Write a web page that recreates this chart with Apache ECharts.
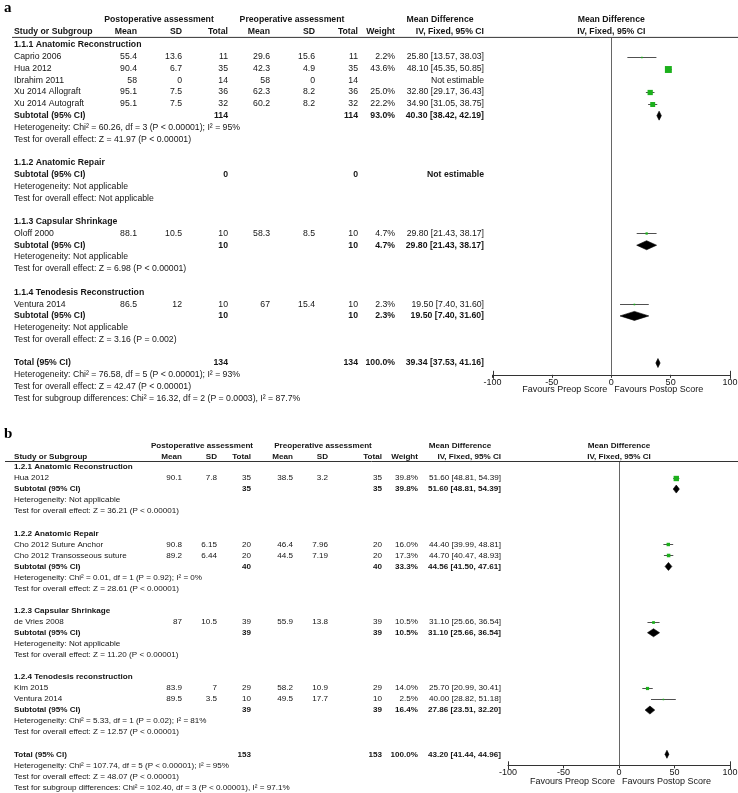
<!DOCTYPE html>
<html>
<head>
<meta charset="utf-8">
<script src="https://cdn.jsdelivr.net/npm/echarts@6/dist/echarts.min.js"></script>
<style>
  html, body { margin: 0; background: #fff; }
  #chart { width: 738px; height: 793px; }
</style>
</head>
<body>
<div id="chart"></div>
<script>
// ---------- panel a : studies ----------
const aStudyRow = [1, 2, 3, 4, 5, 16, 22];
const aStudyName = ['Caprio 2006', 'Hua 2012', 'Ibrahim 2011', 'Xu 2014 Allograft', 'Xu 2014 Autograft', 'Oloff 2000', 'Ventura 2014'];
const aPostMean = [55.4, 90.4, 58, 95.1, 95.1, 88.1, 86.5];
const aPostSD = [13.6, 6.7, 0, 7.5, 7.5, 10.5, 12];
const aPostN = [11, 35, 14, 36, 32, 10, 10];
const aPreMean = [29.6, 42.3, 58, 62.3, 60.2, 58.3, 67];
const aPreSD = [15.6, 4.9, 0, 8.2, 8.2, 8.5, 15.4];
const aPreN = [11, 35, 14, 36, 32, 10, 10];
const aWeight = [2.2, 43.6, null, 25.0, 22.2, 4.7, 2.3];
const aMD = [25.80, 48.10, null, 32.80, 34.90, 29.80, 19.50];
const aLo = [13.57, 45.35, null, 29.17, 31.05, 21.43, 7.40];
const aHi = [38.03, 50.85, null, 36.43, 38.75, 38.17, 31.60];

// panel a : subtotals + total
const aPoolRow = [6, 11, 17, 23, 27];
const aPoolName = ['Subtotal (95% CI)', 'Subtotal (95% CI)', 'Subtotal (95% CI)', 'Subtotal (95% CI)', 'Total (95% CI)'];
const aPoolPostN = [114, 0, 10, 10, 134];
const aPoolPreN = [114, 0, 10, 10, 134];
const aPoolWeight = [93.0, null, 4.7, 2.3, 100.0];
const aPoolMD = [40.30, null, 29.80, 19.50, 39.34];
const aPoolLo = [38.42, null, 21.43, 7.40, 37.53];
const aPoolHi = [42.19, null, 38.17, 31.60, 41.16];

// panel a : subgroup headings and notes
const aGroupRow = [0, 10, 15, 21];
const aGroupName = ['1.1.1 Anatomic Reconstruction', '1.1.2 Anatomic Repair', '1.1.3 Capsular Shrinkage', '1.1.4 Tenodesis Reconstruction'];
const aNoteRow = [7, 8, 12, 13, 18, 19, 24, 25, 28, 29, 30];
const aNoteText = [
  'Heterogeneity: Chi² = 60.26, df = 3 (P < 0.00001); I² = 95%',
  'Test for overall effect: Z = 41.97 (P < 0.00001)',
  'Heterogeneity: Not applicable',
  'Test for overall effect: Not applicable',
  'Heterogeneity: Not applicable',
  'Test for overall effect: Z = 6.98 (P < 0.00001)',
  'Heterogeneity: Not applicable',
  'Test for overall effect: Z = 3.16 (P = 0.002)',
  'Heterogeneity: Chi² = 76.58, df = 5 (P < 0.00001); I² = 93%',
  'Test for overall effect: Z = 42.47 (P < 0.00001)',
  'Test for subgroup differences: Chi² = 16.32, df = 2 (P = 0.0003), I² = 87.7%'
];

// ---------- panel b : studies ----------
const bStudyRow = [1, 7, 8, 14, 20, 21];
const bStudyName = ['Hua 2012', 'Cho 2012 Suture Anchor', 'Cho 2012 Transosseous suture', 'de Vries 2008', 'Kim 2015', 'Ventura 2014'];
const bPostMean = [90.1, 90.8, 89.2, 87, 83.9, 89.5];
const bPostSD = [7.8, 6.15, 6.44, 10.5, 7, 3.5];
const bPostN = [35, 20, 20, 39, 29, 10];
const bPreMean = [38.5, 46.4, 44.5, 55.9, 58.2, 49.5];
const bPreSD = [3.2, 7.96, 7.19, 13.8, 10.9, 17.7];
const bPreN = [35, 20, 20, 39, 29, 10];
const bWeight = [39.8, 16.0, 17.3, 10.5, 14.0, 2.5];
const bMD = [51.60, 44.40, 44.70, 31.10, 25.70, 40.00];
const bLo = [48.81, 39.99, 40.47, 25.66, 20.99, 28.82];
const bHi = [54.39, 48.81, 48.93, 36.54, 30.41, 51.18];

const bPoolRow = [2, 9, 15, 22, 26];
const bPoolName = ['Subtotal (95% CI)', 'Subtotal (95% CI)', 'Subtotal (95% CI)', 'Subtotal (95% CI)', 'Total (95% CI)'];
const bPoolPostN = [35, 40, 39, 39, 153];
const bPoolPreN = [35, 40, 39, 39, 153];
const bPoolWeight = [39.8, 33.3, 10.5, 16.4, 100.0];
const bPoolMD = [51.60, 44.56, 31.10, 27.86, 43.20];
const bPoolLo = [48.81, 41.50, 25.66, 23.51, 41.44];
const bPoolHi = [54.39, 47.61, 36.54, 32.20, 44.96];

const bGroupRow = [0, 6, 13, 19];
const bGroupName = ['1.2.1 Anatomic Reconstruction', '1.2.2 Anatomic Repair', '1.2.3 Capsular Shrinkage', '1.2.4 Tenodesis reconstruction'];
const bNoteRow = [3, 4, 10, 11, 16, 17, 23, 24, 27, 28, 29];
const bNoteText = [
  'Heterogeneity: Not applicable',
  'Test for overall effect: Z = 36.21 (P < 0.00001)',
  'Heterogeneity: Chi² = 0.01, df = 1 (P = 0.92); I² = 0%',
  'Test for overall effect: Z = 28.61 (P < 0.00001)',
  'Heterogeneity: Not applicable',
  'Test for overall effect: Z = 11.20 (P < 0.00001)',
  'Heterogeneity: Chi² = 5.33, df = 1 (P = 0.02); I² = 81%',
  'Test for overall effect: Z = 12.57 (P < 0.00001)',
  'Heterogeneity: Chi² = 107.74, df = 5 (P < 0.00001); I² = 95%',
  'Test for overall effect: Z = 48.07 (P < 0.00001)',
  'Test for subgroup differences: Chi² = 102.40, df = 3 (P < 0.00001), I² = 97.1%'
];

// x axis of the plot
const axisTicks = [-100, -50, 0, 50, 100];
const favoursLeft = 'Favours Preop Score';
const favoursRight = 'Favours Postop Score';

const FONT = "'Liberation Sans', Arial, sans-serif";
const TXT = '#151515';
const GREEN = '#1cb01c';

// layout only (pixels)
const panels = [
  {
    label: 'a', labelY: 1, fontSize: 8.7, sq: 1.05, dia: 4.5,
    gridLeft: 492.5, gridWidth: 237.5, gridTop: 37.9, rowStep: 11.78, yMin: -0.6, yMax: 28,
    lineX: 12, head1Y: 20, head2Y: 32, favY: 390,
    cols: { name: 14, postMean: 137, postSD: 182, postN: 228, preMean: 270, preSD: 315, preN: 358, weight: 395, ci: 484 },
    head1: [['Postoperative assessment', 159], ['Preoperative assessment', 292], ['Mean Difference', 440]],
    study: { row: aStudyRow, name: aStudyName, postMean: aPostMean, postSD: aPostSD, postN: aPostN, preMean: aPreMean, preSD: aPreSD, preN: aPreN, weight: aWeight, md: aMD, lo: aLo, hi: aHi },
    pool: { row: aPoolRow, name: aPoolName, postN: aPoolPostN, preN: aPoolPreN, weight: aPoolWeight, md: aPoolMD, lo: aPoolLo, hi: aPoolHi },
    group: { row: aGroupRow, name: aGroupName },
    note: { row: aNoteRow, text: aNoteText }
  },
  {
    label: 'b', labelY: 427, fontSize: 8.1, sq: 0.85, dia: 4,
    gridLeft: 508, gridWidth: 222, gridTop: 462, rowStep: 11.05, yMin: -0.45, yMax: 27,
    lineX: 5, head1Y: 446, head2Y: 457, favY: 782,
    cols: { name: 14, postMean: 182, postSD: 217, postN: 251, preMean: 293, preSD: 328, preN: 382, weight: 418, ci: 501 },
    head1: [['Postoperative assessment', 202], ['Preoperative assessment', 323], ['Mean Difference', 460]],
    study: { row: bStudyRow, name: bStudyName, postMean: bPostMean, postSD: bPostSD, postN: bPostN, preMean: bPreMean, preSD: bPreSD, preN: bPreN, weight: bWeight, md: bMD, lo: bLo, hi: bHi },
    pool: { row: bPoolRow, name: bPoolName, postN: bPoolPostN, preN: bPoolPreN, weight: bPoolWeight, md: bPoolMD, lo: bPoolLo, hi: bPoolHi },
    group: { row: bGroupRow, name: bGroupName },
    note: { row: bNoteRow, text: bNoteText }
  }
];

const ciText = (m, l, h) => m.toFixed(2) + ' [' + l.toFixed(2) + ', ' + h.toFixed(2) + ']';

function buildRows(P) {
  const c = P.cols, S = P.study, Q = P.pool, rows = [];
  S.row.forEach((r, i) => {
    const cells = [
      [S.name[i], c.name, 'left'],
      [String(S.postMean[i]), c.postMean, 'right'],
      [String(S.postSD[i]), c.postSD, 'right'],
      [String(S.postN[i]), c.postN, 'right'],
      [String(S.preMean[i]), c.preMean, 'right'],
      [String(S.preSD[i]), c.preSD, 'right'],
      [String(S.preN[i]), c.preN, 'right']
    ];
    if (S.weight[i] != null) cells.push([S.weight[i].toFixed(1) + '%', c.weight, 'right']);
    cells.push([S.md[i] != null ? ciText(S.md[i], S.lo[i], S.hi[i]) : 'Not estimable', c.ci, 'right']);
    rows.push({ row: r, bold: false, cells });
  });
  Q.row.forEach((r, i) => {
    const cells = [
      [Q.name[i], c.name, 'left'],
      [String(Q.postN[i]), c.postN, 'right'],
      [String(Q.preN[i]), c.preN, 'right']
    ];
    if (Q.weight[i] != null) cells.push([Q.weight[i].toFixed(1) + '%', c.weight, 'right']);
    cells.push([Q.md[i] != null ? ciText(Q.md[i], Q.lo[i], Q.hi[i]) : 'Not estimable', c.ci, 'right']);
    rows.push({ row: r, bold: true, cells });
  });
  P.group.row.forEach((r, i) => rows.push({ row: r, bold: true, cells: [[P.group.name[i], c.name, 'left']] }));
  P.note.row.forEach((r, i) => rows.push({ row: r, bold: false, cells: [[P.note.text[i], c.name, 'left']] }));
  return rows;
}

function textEl(text, x, y, align, bold, size) {
  return {
    type: 'text',
    style: {
      text, x, y, align, textAlign: align, verticalAlign: 'middle', textVerticalAlign: 'middle',
      fill: TXT, font: (bold ? 'bold ' : '') + size + 'px ' + FONT
    }
  };
}

const grid = [], xAxis = [], yAxis = [], series = [], graphic = [];

panels.forEach((P, k) => {
  const rows = buildRows(P);
  grid.push({
    left: P.gridLeft, width: P.gridWidth, top: P.gridTop,
    height: (P.yMax - P.yMin) * P.rowStep,
    containLabel: false, outerBoundsMode: 'none'
  });
  xAxis.push({
    gridIndex: k, type: 'value', min: axisTicks[0], max: axisTicks[axisTicks.length - 1], interval: 50,
    position: 'bottom',
    axisLine: { show: true, onZero: false, lineStyle: { color: '#333', width: 1 } },
    axisTick: { show: true, length: 3, lineStyle: { color: '#333' } },
    axisLabel: { color: TXT, fontSize: 9, fontFamily: FONT, margin: 3 },
    splitLine: { show: false }
  });
  yAxis.push({ gridIndex: k, type: 'value', inverse: true, min: P.yMin, max: P.yMax, show: false, splitLine: { show: false } });

  // table text, placed on the rows of the y scale
  series.push({
    type: 'custom', xAxisIndex: k, yAxisIndex: k, silent: true, clip: false,
    data: rows.map(r => [0, r.row]),
    renderItem(params, api) {
      const r = rows[params.dataIndex];
      const y = api.coord([0, r.row])[1];
      return { type: 'group', children: r.cells.map(cc => textEl(cc[0], cc[1], y, cc[2], r.bold, P.fontSize)) };
    }
  });

  // study estimates: CI line + weighted square
  const S = P.study;
  const studyData = [];
  S.row.forEach((r, i) => { if (S.md[i] != null) studyData.push([r, S.md[i], S.lo[i], S.hi[i], S.weight[i]]); });
  series.push({
    type: 'custom', xAxisIndex: k, yAxisIndex: k, silent: true, clip: false,
    data: studyData,
    renderItem(params, api) {
      const row = api.value(0);
      const c = api.coord([api.value(1), row]);
      const l = api.coord([api.value(2), row]);
      const h = api.coord([api.value(3), row]);
      const y = Math.round(c[1]) + 0.5;
      const s = Math.max(1.5, P.sq * Math.sqrt(api.value(4)));
      return {
        type: 'group', children: [
          { type: 'line', shape: { x1: l[0], y1: y, x2: h[0], y2: y }, style: { stroke: '#505050', lineWidth: 1 } },
          { type: 'rect', shape: { x: c[0] - s / 2, y: y - s / 2, width: s, height: s }, style: { fill: GREEN } }
        ]
      };
    },
    markLine: {
      silent: true, symbol: ['none', 'none'], label: { show: false },
      lineStyle: { color: '#666', width: 1, type: 'solid' },
      data: [{ xAxis: 0 }]
    }
  });

  // pooled diamonds
  const Q = P.pool;
  const poolData = [];
  Q.row.forEach((r, i) => { if (Q.md[i] != null) poolData.push([r, Q.md[i], Q.lo[i], Q.hi[i]]); });
  series.push({
    type: 'custom', xAxisIndex: k, yAxisIndex: k, silent: true, clip: false,
    data: poolData,
    renderItem(params, api) {
      const row = api.value(0);
      const c = api.coord([api.value(1), row]);
      const l = api.coord([api.value(2), row]);
      const h = api.coord([api.value(3), row]);
      const y = c[1], d = P.dia;
      return {
        type: 'polygon',
        shape: { points: [[l[0], y], [c[0], y - d], [h[0], y], [c[0], y + d]] },
        style: { fill: '#000', stroke: '#000', lineWidth: 0.6 }
      };
    }
  });

  // taller end ticks of the axis (-100 and 100 cross the line)
  series.push({
    type: 'custom', xAxisIndex: k, yAxisIndex: k, silent: true, clip: false,
    data: [[axisTicks[0]], [axisTicks[axisTicks.length - 1]]],
    renderItem(params, api) {
      const p = api.coord([api.value(0), P.yMax]);
      const x = Math.round(p[0]) + 0.5;
      return { type: 'line', shape: { x1: x, y1: p[1] - 4, x2: x, y2: p[1] + 4 }, style: { stroke: '#333', lineWidth: 1 } };
    }
  });

  // headers, panel letter, favours labels
  const z = P.gridLeft + P.gridWidth / 2;
  const c = P.cols, fs = P.fontSize;
  graphic.push({ type: 'text', left: 4, top: P.labelY, style: { text: P.label, font: 'bold 15px "Liberation Serif", serif', fill: '#000' } });
  P.head1.forEach(h => graphic.push(textEl(h[0], h[1], P.head1Y, 'center', true, fs)));
  graphic.push(textEl('Mean Difference', z, P.head1Y, 'center', true, fs));
  [['Study or Subgroup', c.name, 'left'], ['Mean', c.postMean, 'right'], ['SD', c.postSD, 'right'], ['Total', c.postN, 'right'],
   ['Mean', c.preMean, 'right'], ['SD', c.preSD, 'right'], ['Total', c.preN, 'right'], ['Weight', c.weight, 'right'],
   ['IV, Fixed, 95% CI', c.ci, 'right'], ['IV, Fixed, 95% CI', z, 'center']]
    .forEach(h => graphic.push(textEl(h[0], h[1], P.head2Y, h[2], true, fs)));
  graphic.push({ type: 'line', shape: { x1: P.lineX, y1: P.gridTop - 0.5, x2: 738, y2: P.gridTop - 0.5 }, style: { stroke: '#333', lineWidth: 1 } });
  graphic.push(textEl(favoursLeft, z - 4, P.favY, 'right', false, 9));
  graphic.push(textEl(favoursRight, z + 3, P.favY, 'left', false, 9));
});

const chart = echarts.init(document.getElementById('chart'), null, { renderer: 'canvas' });
chart.setOption({
  animation: false,
  backgroundColor: '#fff',
  grid, xAxis, yAxis, series, graphic
});
</script>
</body>
</html>
